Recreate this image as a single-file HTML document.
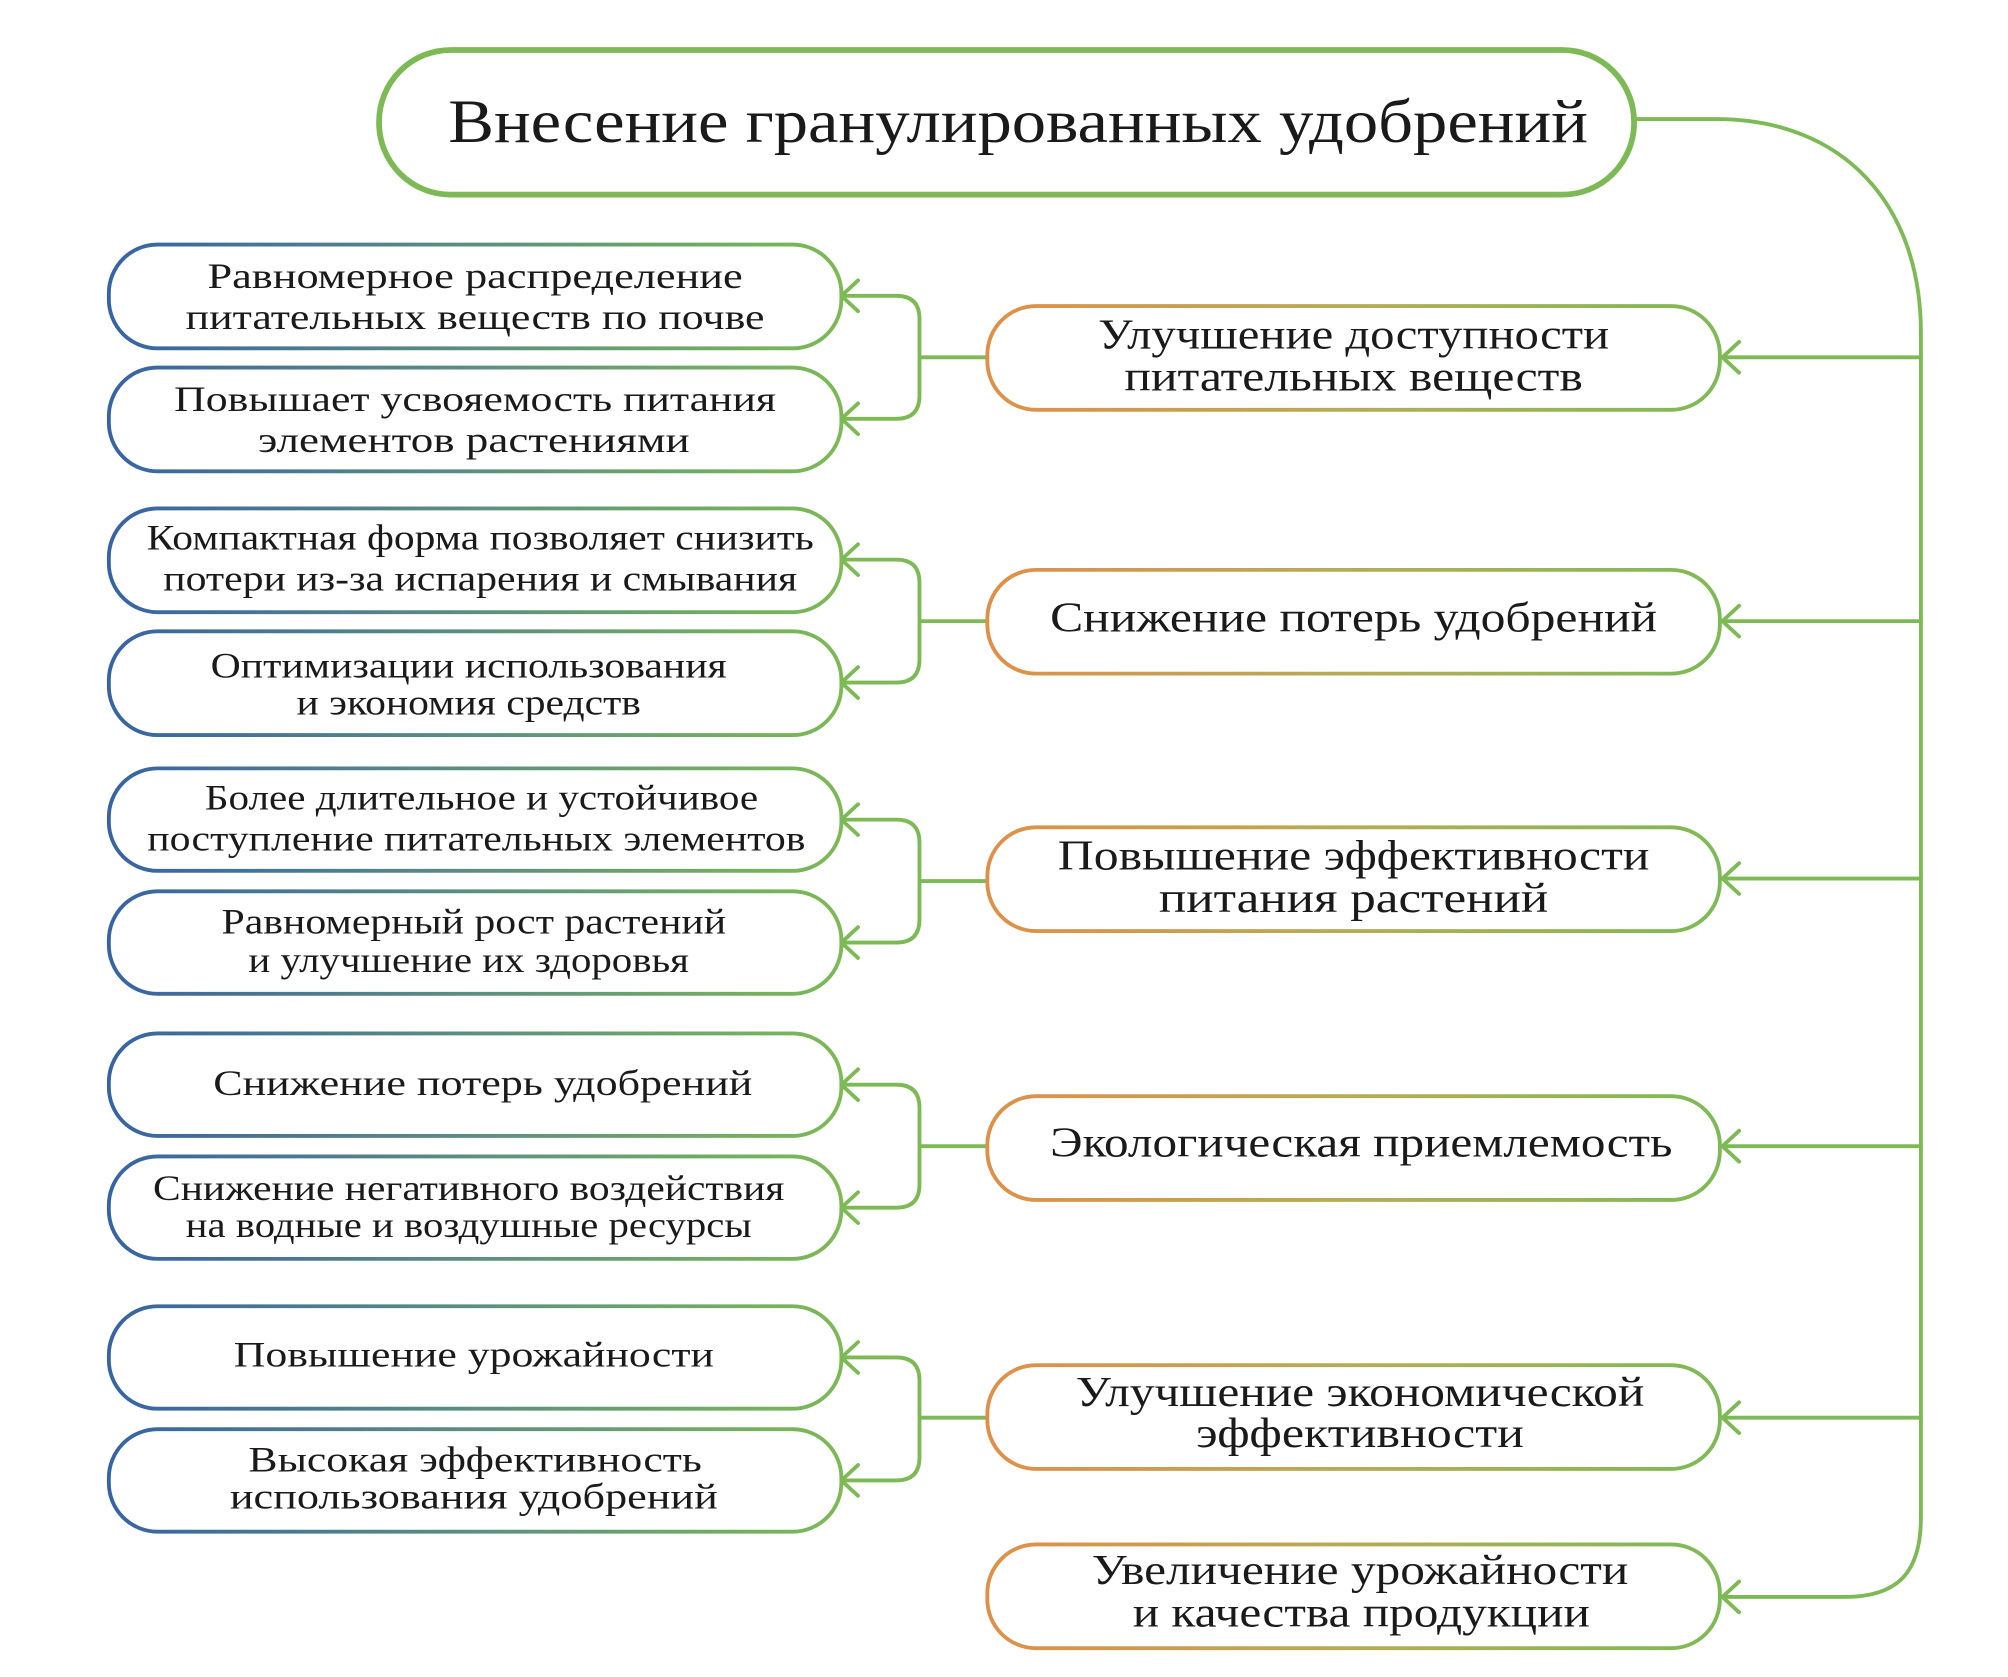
<!DOCTYPE html>
<html><head><meta charset="utf-8"><style>
html,body{margin:0;padding:0;background:#fff;}
svg{display:block;}
text{font-family:"Liberation Serif","Noto Serif CJK SC",serif;fill:#1a1a1a;}
</style></head><body>
<svg width="2008" height="1677" viewBox="0 0 1568 1309.5" preserveAspectRatio="none" xmlns="http://www.w3.org/2000/svg">
<defs>
<linearGradient id="gl" x1="0" x2="1" y1="0" y2="0"><stop offset="0" stop-color="#3763a3"/><stop offset="0.5" stop-color="#5b8f80"/><stop offset="1" stop-color="#7dba55"/></linearGradient>
<linearGradient id="gr" x1="0" x2="1" y1="0" y2="0"><stop offset="0" stop-color="#e08f48"/><stop offset="0.5" stop-color="#b6ac55"/><stop offset="1" stop-color="#7dba55"/></linearGradient>
</defs>
<g fill="none" stroke="#7dba55" stroke-width="3" stroke-linecap="round" stroke-linejoin="round">
<path d="M1278 93 H1340 C1440 93 1500 160 1500 260 V1185 C1500 1228 1482 1247 1440 1247 H1345"/>
<path d="M1500 279 H1345 M1500 485 H1345 M1500 686 H1345 M1500 895 H1345 M1500 1107 H1345"/>
<path d="M1358 267 L1345 279 L1358 291 M1358 473 L1345 485 L1358 497 M1358 674 L1345 686 L1358 698 M1358 883 L1345 895 L1358 907 M1358 1095 L1345 1107 L1358 1119 M1358 1235 L1345 1247 L1358 1259"/>
<path d="M771 279 H718 M657 231 H700 Q718 231 718 249 V309 Q718 327 700 327 H657 M670 219 L657 231 L670 243 M670 315 L657 327 L670 339"/>
<path d="M771 485 H718 M657 437 H700 Q718 437 718 455 V515 Q718 533 700 533 H657 M670 425 L657 437 L670 449 M670 521 L657 533 L670 545"/>
<path d="M771 688 H718 M657 640 H700 Q718 640 718 658 V718 Q718 736 700 736 H657 M670 628 L657 640 L670 652 M670 724 L657 736 L670 748"/>
<path d="M771 895 H718 M657 847 H700 Q718 847 718 865 V925 Q718 943 700 943 H657 M670 835 L657 847 L670 859 M670 931 L657 943 L670 955"/>
<path d="M771 1107 H718 M657 1060 H700 Q718 1060 718 1078 V1138 Q718 1156 700 1156 H657 M670 1048 L657 1060 L670 1072 M670 1144 L657 1156 L670 1168"/>
</g>
<rect x="296" y="39" width="980" height="113" rx="56" fill="#fff" stroke="#7dba55" stroke-width="4.5"/>
<text x="795" y="111" font-size="48" text-anchor="middle" textLength="890" lengthAdjust="spacingAndGlyphs">Внесение гранулированных удобрений</text>
<g fill="#fff" stroke="url(#gl)" stroke-width="3">
<rect x="85" y="191" width="572" height="81" rx="38"/>
<rect x="85" y="287" width="572" height="81" rx="38"/>
<rect x="85" y="397" width="572" height="81" rx="38"/>
<rect x="85" y="493" width="572" height="81" rx="38"/>
<rect x="85" y="600" width="572" height="80" rx="38"/>
<rect x="85" y="696" width="572" height="80" rx="38"/>
<rect x="85" y="807" width="572" height="80" rx="38"/>
<rect x="85" y="903" width="572" height="80" rx="38"/>
<rect x="85" y="1020" width="572" height="80" rx="38"/>
<rect x="85" y="1116" width="572" height="80" rx="38"/>
</g>
<g fill="#fff" stroke="url(#gr)" stroke-width="3">
<rect x="771" y="239" width="572" height="81" rx="38"/>
<rect x="771" y="445" width="572" height="81" rx="38"/>
<rect x="771" y="646" width="572" height="81" rx="38"/>
<rect x="771" y="856" width="572" height="81" rx="38"/>
<rect x="771" y="1066" width="572" height="81" rx="38"/>
<rect x="771" y="1206" width="572" height="81" rx="38"/>
</g>
<g font-size="28" text-anchor="middle">
<text x="371" y="225" textLength="418" lengthAdjust="spacingAndGlyphs">Равномерное распределение</text>
<text x="371" y="257" textLength="452" lengthAdjust="spacingAndGlyphs">питательных веществ по почве</text>
<text x="371" y="321" textLength="470" lengthAdjust="spacingAndGlyphs">Повышает усвояемость питания</text>
<text x="370" y="353" textLength="337" lengthAdjust="spacingAndGlyphs">элементов растениями</text>
<text x="375" y="429" textLength="521" lengthAdjust="spacingAndGlyphs">Компактная форма позволяет снизить</text>
<text x="375" y="461" textLength="495" lengthAdjust="spacingAndGlyphs">потери из-за испарения и смывания</text>
<text x="366" y="529" textLength="403" lengthAdjust="spacingAndGlyphs">Оптимизации использования</text>
<text x="366" y="558" textLength="269" lengthAdjust="spacingAndGlyphs">и экономия средств</text>
<text x="376" y="632" textLength="432" lengthAdjust="spacingAndGlyphs">Более длительное и устойчивое</text>
<text x="372" y="664" textLength="514" lengthAdjust="spacingAndGlyphs">поступление питательных элементов</text>
<text x="370" y="729" textLength="394" lengthAdjust="spacingAndGlyphs">Равномерный рост растений</text>
<text x="366" y="759" textLength="344" lengthAdjust="spacingAndGlyphs">и улучшение их здоровья</text>
<text x="377" y="855" textLength="421" lengthAdjust="spacingAndGlyphs">Снижение потерь удобрений</text>
<text x="366" y="937" textLength="493" lengthAdjust="spacingAndGlyphs">Снижение негативного воздействия</text>
<text x="366" y="966" textLength="442" lengthAdjust="spacingAndGlyphs">на водные и воздушные ресурсы</text>
<text x="370" y="1067" textLength="375" lengthAdjust="spacingAndGlyphs">Повышение урожайности</text>
<text x="371" y="1149" textLength="354" lengthAdjust="spacingAndGlyphs">Высокая эффективность</text>
<text x="370" y="1178" textLength="381" lengthAdjust="spacingAndGlyphs">использования удобрений</text>
</g>
<g font-size="33" text-anchor="middle">
<text x="1057" y="272" textLength="399" lengthAdjust="spacingAndGlyphs">Улучшение доступности</text>
<text x="1057" y="305" textLength="358" lengthAdjust="spacingAndGlyphs">питательных веществ</text>
<text x="1057" y="493" textLength="474" lengthAdjust="spacingAndGlyphs">Снижение потерь удобрений</text>
<text x="1057" y="679" textLength="462" lengthAdjust="spacingAndGlyphs">Повышение эффективности</text>
<text x="1057" y="712" textLength="304" lengthAdjust="spacingAndGlyphs">питания растений</text>
<text x="1063" y="903" textLength="486" lengthAdjust="spacingAndGlyphs">Экологическая приемлемость</text>
<text x="1062" y="1098" textLength="444" lengthAdjust="spacingAndGlyphs">Улучшение экономической</text>
<text x="1062" y="1130" textLength="256" lengthAdjust="spacingAndGlyphs">эффективности</text>
<text x="1062" y="1237" textLength="419" lengthAdjust="spacingAndGlyphs">Увеличение урожайности</text>
<text x="1063" y="1270" textLength="357" lengthAdjust="spacingAndGlyphs">и качества продукции</text>
</g>
</svg>
</body></html>
